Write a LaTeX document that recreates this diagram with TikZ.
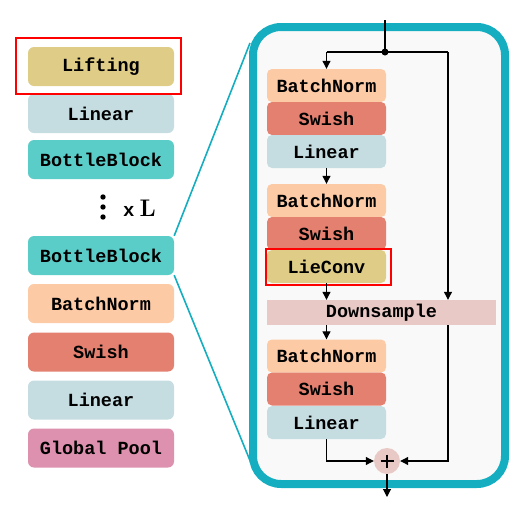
\documentclass[tikz,border=0pt]{standalone}
\usepackage{fontspec}
\newfontfamily\cour{Liberation Mono}
\usetikzlibrary{arrows.meta}
\definecolor{cLift}{HTML}{DECC87}
\definecolor{cLin}{HTML}{C5DDE1}
\definecolor{cBott}{HTML}{5BCDC9}
\definecolor{cBN}{HTML}{FDCAA6}
\definecolor{cSw}{HTML}{E4806F}
\definecolor{cGP}{HTML}{DD91AE}
\definecolor{cDown}{HTML}{E8C9C5}
\definecolor{cTeal}{HTML}{14AEC0}
\definecolor{cIn}{HTML}{F9F9F9}
\tikzset{
  lbox/.style={fill=#1, rounded corners=6pt, minimum width=146pt, minimum height=39pt, inner sep=0pt, font=\cour\bfseries\fontsize{18.5}{20}\selectfont},
  ibox/.style={fill=#1, rounded corners=5pt, minimum width=119pt, minimum height=33pt, inner sep=0pt, font=\cour\bfseries\fontsize{18.5}{20}\selectfont},
  arr/.style={-{Triangle[length=8pt,width=8pt]}, line width=1.1pt},
  ln/.style={line width=1.1pt},
  redbox/.style={draw=red, line width=2.5pt},
  tealline/.style={draw=cTeal, line width=1.6pt}
}
\begin{document}
\begin{tikzpicture}[x=1pt,y=-1pt]
\useasboundingbox (0,0) rectangle (531,509);
% outer block
\draw[cTeal, line width=8pt, fill=cIn, rounded corners=28pt] (253,27) rectangle (505,484);
% left column
\node[lbox=cLift] (lift) at (101,66.5) {Lifting};
\node[lbox=cLin] (lin0) at (101,113.5) {Linear};
\node[lbox=cBott] (bb1) at (101,159.5) {BottleBlock};
\fill (103,197) circle (2.7pt) (103,207) circle (2.7pt) (103,217) circle (2.7pt);
\node[inner sep=0pt, anchor=west] (xl) at (123,208.5) {\cour\bfseries\fontsize{19}{20}\selectfont x\hspace{5pt}\fontsize{24}{26}\selectfont\rmfamily\bfseries L};
\node[lbox=cBott] (bb2) at (101,255.5) {BottleBlock};
\node[lbox=cBN] (bn0) at (101,303.5) {BatchNorm};
\node[lbox=cSw] (sw0) at (101,352) {Swish};
\node[lbox=cLin] (lin9) at (101,400) {Linear};
\node[lbox=cGP] (gp) at (101,448) {Global Pool};
\draw[redbox] (16,38) rectangle (181,94);
% zoom lines
\coordinate (zt) at (250,43);
\coordinate (zb) at (251,463);
\draw[tealline] (bb2.north east) -- (zt);
\draw[tealline] (bb2.south east) -- (zb);
% inner column
\node[ibox=cBN] (bn1) at (326.5,85.5) {BatchNorm};
\node[ibox=cSw] (sw1) at (326.5,118.5) {Swish};
\node[ibox=cLin] (lin1) at (326.5,151.5) {Linear};
\node[ibox=cBN] (bn2) at (326.5,200.5) {BatchNorm};
\node[ibox=cSw] (sw2) at (326.5,233.5) {Swish};
\node[ibox=cLift] (lie) at (326.5,266.5) {LieConv};
\draw[redbox] (266,249) rectangle (391,285);
\node[fill=cDown, minimum width=229pt, minimum height=25pt, inner sep=0pt, font=\cour\bfseries\fontsize{18.5}{20}\selectfont] (down) at (381.5,312.5) {Downsample};
\node[ibox=cBN] (bn3) at (326.5,356) {BatchNorm};
\node[ibox=cSw] (sw3) at (326.5,389) {Swish};
\node[ibox=cLin] (lin3) at (326.5,422.5) {Linear};
\node[circle, fill=cDown, minimum size=26pt, inner sep=0pt] (plus) at (387,461) {};
\draw[line width=2.2pt] (plus.center) ++(-6.5,0) -- ++(13,0) (plus.center) ++(0,-6.5) -- ++(0,13);
% connectors
\coordinate (in) at (385,20);
\coordinate (j) at (385,52);
\coordinate (jl) at (326.5,52);
\coordinate (jr) at (448,52);
\coordinate (rb) at (448,461);
\coordinate (lb) at (326.5,461);
\coordinate (out) at (387,497);
\draw[ln] (in) -- (j);
\fill (j) circle (3.5pt);
\draw[ln] (jl) -- (jr);
\draw[arr] (jl) -- (bn1.north);
\draw[arr] (jr) -- (jr |- down.north);
\draw[arr] (lin1.south) -- (bn2.north);
\draw[arr] (lie.south) -- (lie.south |- down.north);
\draw[arr] (lie.south |- down.south) -- (bn3.north);
\draw[arr] (jr |- down.south) -- (rb) -- (plus.east);
\draw[arr] (lin3.south) -- (lb) -- (plus.west);
\draw[arr] (plus.south) -- (out);
\end{tikzpicture}
\end{document}
